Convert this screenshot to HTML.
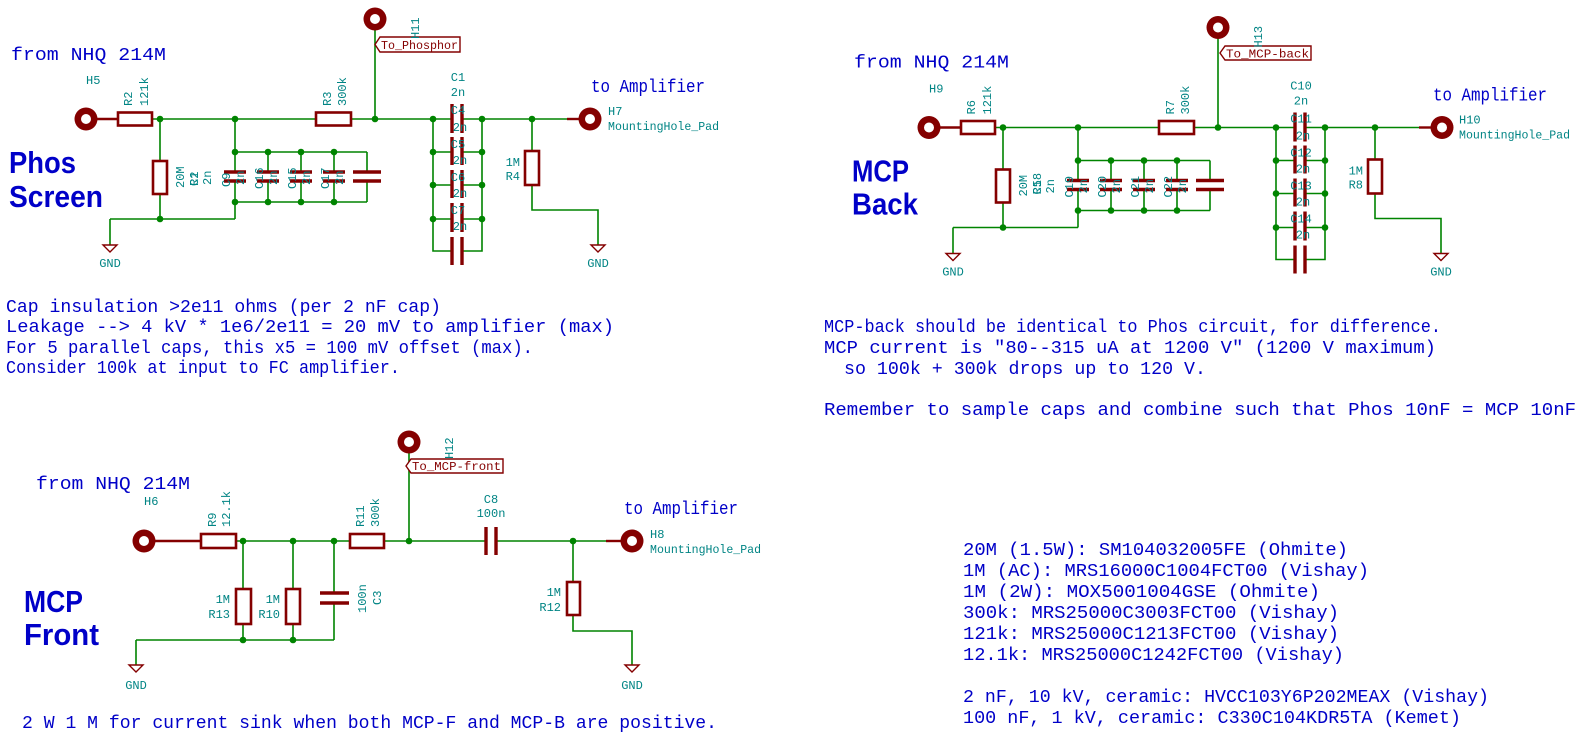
<!DOCTYPE html>
<html><head><meta charset="utf-8"><style>
html,body{margin:0;padding:0;background:#fff;}
svg{display:block;}
.w{stroke:#008400;stroke-width:1.6;fill:none;}
.r{stroke:#840000;stroke-width:2.4;fill:none;}
.rb{stroke:#840000;stroke-width:2.6;fill:#fff;}
.p{stroke:#840000;stroke-width:3.4;fill:none;}
.j{fill:#008400;}
.t{fill:#008484;font-family:"Liberation Mono",monospace;font-size:12px;}
.b{fill:#0000c8;font-family:"Liberation Mono",monospace;font-size:18px;}
.bb{fill:#0000c8;font-family:"Liberation Sans",sans-serif;font-weight:bold;font-size:31px;}
.lb{fill:#840000;font-family:"Liberation Mono",monospace;font-size:12px;}
</style></head><body>
<svg width="1588" height="748" viewBox="0 0 1588 748" xmlns="http://www.w3.org/2000/svg">
<defs>
<g id="cir">
  <line class="r" x1="97" y1="119" x2="118" y2="119"/>
  <path class="w" d="M152 119H316 M351 119H452 M160 119V161 M160 194V219 M110 219H235 M110 219V245 M235 119V172 M235 181V219 M235 152H367 M235 202H367 M268 152V172 M268 181V202 M301 152V172 M301 181V202 M334 152V172 M334 181V202 M367 152V172 M367 181V202 M375 30V119 M433 119V251H452 M482 119V251H462 M433 152H452 M433 185H452 M433 219H452 M462 152H482 M462 185H482 M462 219H482 M462 119H532 M532 119V151 M532 185V210H598V245"/>
  <rect class="rb" x="118" y="112.5" width="34" height="13"/>
  <rect class="rb" x="316" y="112.5" width="35" height="13"/>
  <rect class="rb" x="153" y="161" width="14" height="33"/>
  <rect class="rb" x="525" y="151" width="14" height="34"/>
  <path class="p" d="M224 172H246 M224 181H246 M257 172H279 M257 181H279 M290 172H312 M290 181H312 M323 172H345 M323 181H345 M353 172H381 M353 181H381"/>
  <path class="p" d="M452 104V133 M462 104V133 M452 137V165 M462 137V165 M452 170V198 M462 170V198 M452 203V232 M462 203V232 M452 237V265 M462 237V265"/>
  <g class="j">
    <circle cx="160" cy="119" r="3.3"/><circle cx="235" cy="119" r="3.3"/><circle cx="375" cy="119" r="3.3"/><circle cx="433" cy="119" r="3.3"/><circle cx="482" cy="119" r="3.3"/><circle cx="532" cy="119" r="3.3"/><circle cx="160" cy="219" r="3.3"/>
    <circle cx="235" cy="152" r="3.3"/><circle cx="268" cy="152" r="3.3"/><circle cx="301" cy="152" r="3.3"/><circle cx="334" cy="152" r="3.3"/>
    <circle cx="235" cy="202" r="3.3"/><circle cx="268" cy="202" r="3.3"/><circle cx="301" cy="202" r="3.3"/><circle cx="334" cy="202" r="3.3"/>
    <circle cx="433" cy="152" r="3.3"/><circle cx="433" cy="185" r="3.3"/><circle cx="433" cy="219" r="3.3"/>
    <circle cx="482" cy="152" r="3.3"/><circle cx="482" cy="185" r="3.3"/><circle cx="482" cy="219" r="3.3"/>
  </g>
  <circle cx="86" cy="119" r="11.5" fill="#840000"/><circle cx="86" cy="119" r="5" fill="#fff"/>
  <circle cx="375" cy="19" r="11.5" fill="#840000"/><circle cx="375" cy="19" r="5" fill="#fff"/>
  <path class="r" style="stroke-width:1.4" d="M103 245H117L110 252Z M591 245H605L598 252Z"/>
</g>
</defs>

<!-- PHOS -->
<use href="#cir"/>
<path class="w" d="M532 119H567"/><line class="r" x1="567" y1="119" x2="580" y2="119"/>
<circle cx="590" cy="119" r="11.5" fill="#840000"/><circle cx="590" cy="119" r="5" fill="#fff"/>
<polygon points="375,44.5 380,37 460,37 460,52 380,52" fill="#fff" stroke="#840000" stroke-width="1.4"/>
<text class="lb" x="381" y="49" textLength="77" lengthAdjust="spacingAndGlyphs">To_Phosphor</text>
<text class="b" x="11" y="60" textLength="155" lengthAdjust="spacingAndGlyphs">from NHQ 214M</text>
<text class="b" x="591" y="92" textLength="114" lengthAdjust="spacingAndGlyphs">to Amplifier</text>
<text class="bb" x="9" y="173" textLength="67" lengthAdjust="spacingAndGlyphs">Phos</text>
<text class="bb" x="9" y="207" textLength="94" lengthAdjust="spacingAndGlyphs">Screen</text>
<text class="t" x="86" y="84">H5</text>
<text class="t" x="608" y="115">H7</text>
<text class="t" x="608" y="130" textLength="111" lengthAdjust="spacingAndGlyphs">MountingHole_Pad</text>
<text class="t" transform="translate(132,106) rotate(-90)">R2</text>
<text class="t" transform="translate(148,106) rotate(-90)">121k</text>
<text class="t" transform="translate(331,106) rotate(-90)">R3</text>
<text class="t" transform="translate(346,106) rotate(-90)">300k</text>
<text class="t" transform="translate(419,39) rotate(-90)">H11</text>
<text class="t" transform="translate(184,188) rotate(-90)">20M</text>
<text class="t" transform="translate(198,186) rotate(-90)">R1</text>
<text class="t" transform="translate(198,186) rotate(-90)">C2</text>
<text class="t" transform="translate(211,185) rotate(-90)">2n</text>
<text class="t" transform="translate(230,187) rotate(-90)">C9</text><text class="t" transform="translate(244,185) rotate(-90)">2n</text>
<text class="t" transform="translate(263,189) rotate(-90)">C16</text><text class="t" transform="translate(277,185) rotate(-90)">2n</text>
<text class="t" transform="translate(296,189) rotate(-90)">C15</text><text class="t" transform="translate(310,185) rotate(-90)">2n</text>
<text class="t" transform="translate(329,189) rotate(-90)">C17</text><text class="t" transform="translate(343,185) rotate(-90)">2n</text>
<g class="t" text-anchor="middle">
<text x="458" y="81">C1</text><text x="458" y="96">2n</text>
<text x="458" y="114">C4</text><text x="460" y="131">2n</text>
<text x="458" y="148">C5</text><text x="460" y="164">2n</text>
<text x="458" y="181">C6</text><text x="460" y="197">2n</text>
<text x="458" y="214">C7</text><text x="460" y="230">2n</text>
<text x="110" y="267">GND</text><text x="598" y="267">GND</text>
</g>
<g class="t" text-anchor="end"><text x="520" y="166">1M</text><text x="520" y="180">R4</text></g>

<!-- MCP BACK -->
<g transform="translate(843,8.5)">
<use href="#cir"/>
<path class="w" d="M532 119H576"/><line class="r" x1="576" y1="119" x2="589" y2="119"/>
<circle cx="599" cy="119" r="11.5" fill="#840000"/><circle cx="599" cy="119" r="5" fill="#fff"/>
<polygon points="377,44.5 382,37.5 468,37.5 468,51.5 382,51.5" fill="#fff" stroke="#840000" stroke-width="1.4"/>
<text class="lb" x="383" y="49" textLength="83" lengthAdjust="spacingAndGlyphs">To_MCP-back</text>
<text class="b" x="11" y="59" textLength="155" lengthAdjust="spacingAndGlyphs">from NHQ 214M</text>
<text class="b" x="590" y="92" textLength="114" lengthAdjust="spacingAndGlyphs">to Amplifier</text>
<text class="bb" x="9" y="173" textLength="57" lengthAdjust="spacingAndGlyphs">MCP</text>
<text class="bb" x="9" y="206" textLength="66" lengthAdjust="spacingAndGlyphs">Back</text>
<text class="t" x="86" y="84">H9</text>
<text class="t" x="616" y="115">H10</text>
<text class="t" x="616" y="130" textLength="111" lengthAdjust="spacingAndGlyphs">MountingHole_Pad</text>
<text class="t" transform="translate(132,106) rotate(-90)">R6</text>
<text class="t" transform="translate(148,106) rotate(-90)">121k</text>
<text class="t" transform="translate(331,106) rotate(-90)">R7</text>
<text class="t" transform="translate(346,106) rotate(-90)">300k</text>
<text class="t" transform="translate(419,39) rotate(-90)">H13</text>
<text class="t" transform="translate(184,188) rotate(-90)">20M</text>
<text class="t" transform="translate(198,186) rotate(-90)">R5</text>
<text class="t" transform="translate(198,186) rotate(-90)">C18</text>
<text class="t" transform="translate(211,185) rotate(-90)">2n</text>
<text class="t" transform="translate(230,189) rotate(-90)">C19</text><text class="t" transform="translate(244,185) rotate(-90)">2n</text>
<text class="t" transform="translate(263,189) rotate(-90)">C20</text><text class="t" transform="translate(277,185) rotate(-90)">2n</text>
<text class="t" transform="translate(296,189) rotate(-90)">C21</text><text class="t" transform="translate(310,185) rotate(-90)">2n</text>
<text class="t" transform="translate(329,189) rotate(-90)">C22</text><text class="t" transform="translate(343,185) rotate(-90)">2n</text>
<g class="t" text-anchor="middle">
<text x="458" y="81">C10</text><text x="458" y="96">2n</text>
<text x="458" y="114">C11</text><text x="460" y="131">2n</text>
<text x="458" y="148">C12</text><text x="460" y="164">2n</text>
<text x="458" y="181">C13</text><text x="460" y="197">2n</text>
<text x="458" y="214">C14</text><text x="460" y="230">2n</text>
<text x="110" y="267">GND</text><text x="598" y="267">GND</text>
</g>
<g class="t" text-anchor="end"><text x="520" y="166">1M</text><text x="520" y="180">R8</text></g>
</g>

<!-- MCP FRONT -->
<line class="r" x1="155" y1="541" x2="201" y2="541"/>
<path class="w" d="M236 541H350 M384 541H486 M496 541H606 M243 541V589 M243 624V640 M293 541V589 M293 624V640 M334 541V593 M334 603V640 M136 640H334 M136 640V665 M409 453V541 M573 541V582 M573 615V631H632V665"/>
<line class="r" x1="606" y1="541" x2="621" y2="541"/>
<rect class="rb" x="201" y="534" width="35" height="14"/>
<rect class="rb" x="350" y="534" width="34" height="14"/>
<rect class="rb" x="236" y="589" width="15" height="35"/>
<rect class="rb" x="286" y="589" width="14" height="35"/>
<rect class="rb" x="567" y="582" width="13" height="33"/>
<path class="p" d="M320 593H349 M320 603H349 M486 527V555 M496 527V555"/>
<g class="j"><circle cx="243" cy="541" r="3.3"/><circle cx="293" cy="541" r="3.3"/><circle cx="334" cy="541" r="3.3"/><circle cx="409" cy="541" r="3.3"/><circle cx="573" cy="541" r="3.3"/><circle cx="243" cy="640" r="3.3"/><circle cx="293" cy="640" r="3.3"/></g>
<circle cx="144" cy="541" r="11.5" fill="#840000"/><circle cx="144" cy="541" r="5" fill="#fff"/>
<circle cx="409" cy="442" r="11.5" fill="#840000"/><circle cx="409" cy="442" r="5" fill="#fff"/>
<circle cx="632" cy="541" r="11.5" fill="#840000"/><circle cx="632" cy="541" r="5" fill="#fff"/>
<path class="r" style="stroke-width:1.4" d="M129 665H143L136 672Z M625 665H639L632 672Z"/>
<polygon points="406,466 411,459 503,459 503,473 411,473" fill="#fff" stroke="#840000" stroke-width="1.4"/>
<text class="lb" x="412" y="470" textLength="89" lengthAdjust="spacingAndGlyphs">To_MCP-front</text>
<text class="b" x="36" y="489" textLength="154" lengthAdjust="spacingAndGlyphs">from NHQ 214M</text>
<text class="b" x="624" y="514" textLength="114" lengthAdjust="spacingAndGlyphs">to Amplifier</text>
<text class="bb" x="24" y="612" textLength="59" lengthAdjust="spacingAndGlyphs">MCP</text>
<text class="bb" x="24" y="645" textLength="75" lengthAdjust="spacingAndGlyphs">Front</text>
<text class="t" x="144" y="505">H6</text>
<text class="t" x="650" y="538">H8</text>
<text class="t" x="650" y="553" textLength="111" lengthAdjust="spacingAndGlyphs">MountingHole_Pad</text>
<text class="t" transform="translate(216,527) rotate(-90)">R9</text>
<text class="t" transform="translate(230,527) rotate(-90)">12.1k</text>
<text class="t" transform="translate(364,527) rotate(-90)">R11</text>
<text class="t" transform="translate(379,527) rotate(-90)">300k</text>
<text class="t" transform="translate(453,459) rotate(-90)">H12</text>
<text class="t" transform="translate(366,613) rotate(-90)">100n</text>
<text class="t" transform="translate(381,605) rotate(-90)">C3</text>
<g class="t" text-anchor="middle"><text x="491" y="503">C8</text><text x="491" y="517">100n</text><text x="136" y="689">GND</text><text x="632" y="689">GND</text></g>
<g class="t" text-anchor="end"><text x="230" y="603">1M</text><text x="230" y="618">R13</text><text x="280" y="603">1M</text><text x="280" y="618">R10</text><text x="561" y="596">1M</text><text x="561" y="611">R12</text></g>

<!-- NOTES -->
<g class="b" style="white-space:pre" xml:space="preserve">
<text x="6" y="312" textLength="435" lengthAdjust="spacingAndGlyphs">Cap insulation &gt;2e11 ohms (per 2 nF cap)</text>
<text x="6" y="332" textLength="608" lengthAdjust="spacingAndGlyphs">Leakage --&gt; 4 kV * 1e6/2e11 = 20 mV to amplifier (max)</text>
<text x="6" y="353" textLength="527" lengthAdjust="spacingAndGlyphs">For 5 parallel caps, this x5 = 100 mV offset (max).</text>
<text x="6" y="373" textLength="394" lengthAdjust="spacingAndGlyphs">Consider 100k at input to FC amplifier.</text>
<text x="824" y="332" textLength="617" lengthAdjust="spacingAndGlyphs">MCP-back should be identical to Phos circuit, for difference.</text>
<text x="824" y="353" textLength="612" lengthAdjust="spacingAndGlyphs">MCP current is "80--315 uA at 1200 V" (1200 V maximum)</text>
<text x="844" y="374" textLength="362" lengthAdjust="spacingAndGlyphs">so 100k + 300k drops up to 120 V.</text>
<text x="824" y="415" textLength="752" lengthAdjust="spacingAndGlyphs">Remember to sample caps and combine such that Phos 10nF = MCP 10nF</text>
<text x="963" y="555" textLength="385" lengthAdjust="spacingAndGlyphs">20M (1.5W): SM104032005FE (Ohmite)</text>
<text x="963" y="576" textLength="406" lengthAdjust="spacingAndGlyphs">1M (AC): MRS16000C1004FCT00 (Vishay)</text>
<text x="963" y="597" textLength="357" lengthAdjust="spacingAndGlyphs">1M (2W): MOX5001004GSE (Ohmite)</text>
<text x="963" y="618" textLength="376" lengthAdjust="spacingAndGlyphs">300k: MRS25000C3003FCT00 (Vishay)</text>
<text x="963" y="639" textLength="376" lengthAdjust="spacingAndGlyphs">121k: MRS25000C1213FCT00 (Vishay)</text>
<text x="963" y="660" textLength="381" lengthAdjust="spacingAndGlyphs">12.1k: MRS25000C1242FCT00 (Vishay)</text>
<text x="963" y="702" textLength="526" lengthAdjust="spacingAndGlyphs">2 nF, 10 kV, ceramic: HVCC103Y6P202MEAX (Vishay)</text>
<text x="963" y="723" textLength="498" lengthAdjust="spacingAndGlyphs">100 nF, 1 kV, ceramic: C330C104KDR5TA (Kemet)</text>
<text x="22" y="728" textLength="695" lengthAdjust="spacingAndGlyphs">2 W 1 M for current sink when both MCP-F and MCP-B are positive.</text>
</g>
</svg>
</body></html>
